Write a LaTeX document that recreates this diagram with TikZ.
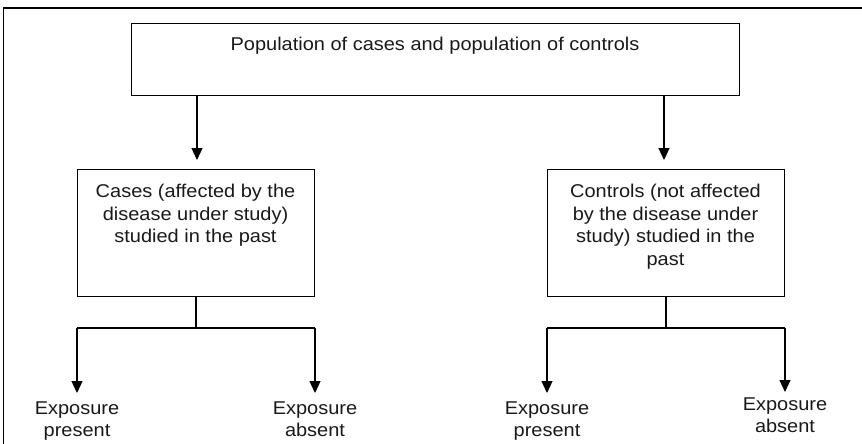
\documentclass[tikz,border=0pt]{standalone}
\usepackage{fontspec}
\setmainfont{Liberation Sans}[FakeStretch=1.08]
\usetikzlibrary{arrows.meta}
\begin{document}
\begin{tikzpicture}[x=1pt,y=-1pt,
  every node/.style={font=\fontsize{18.5}{22.5}\selectfont, inner sep=0pt, text=black!90},
  boxnode/.style={draw, line width=1.2pt, rectangle, anchor=north west},
  txt/.style={align=center, anchor=base},
  conn/.style={line width=1.2pt},
  arr/.style={conn, -{Triangle[length=12pt,width=11pt]}}]
\useasboundingbox (0,0) rectangle (862,444);
\draw[line width=1.2pt] (3.5,444) -- (3.5,8) -- (862,8);
% boxes
\node[boxnode, minimum width=608pt, minimum height=72pt] (top) at (131,23) {};
\node[boxnode, minimum width=237pt, minimum height=127pt] (cases) at (77,169) {};
\node[boxnode, minimum width=237pt, minimum height=127pt] (controls) at (547,169) {};
% texts (anchor base = baseline of last line)
\node[txt] (toptxt) at (435,51) {Population of cases and population of controls};
\node[txt] (casestxt) at (195.5,242.5) {Cases (affected by the\\disease under study)\\studied in the past};
\node[txt] (controlstxt) at (665.5,265) {Controls (not affected\\by the disease under\\study) studied in the\\past};
\node[txt] (e1) at (77,436.5) {Exposure\\present};
\node[txt] (e2) at (315,436.5) {Exposure\\absent};
\node[txt] (e3) at (547,436.5) {Exposure\\present};
\node[txt] (e4) at (785,432.5) {Exposure\\absent};
% coordinates
\coordinate (t1) at (197,95);
\coordinate (t1e) at (197,160);
\coordinate (t2) at (664,95);
\coordinate (t2e) at (664,160);
\coordinate (cs) at (196,296);
\coordinate (cj) at (196,328);
\coordinate (cl) at (77,328);
\coordinate (cr) at (315,328);
\coordinate (cle) at (77,393);
\coordinate (cre) at (315,393);
\coordinate (ks) at (666,296);
\coordinate (kj) at (666,328);
\coordinate (kl) at (547,328);
\coordinate (kr) at (785,328);
\coordinate (kle) at (547,393);
\coordinate (kre) at (785,392);
% connectors
\draw[arr] (t1) -- (t1e);
\draw[arr] (t2) -- (t2e);
\draw[conn] (cs) -- (cj);
\draw[conn] (cl) -- (cr);
\draw[arr] (cl) -- (cle);
\draw[arr] (cr) -- (cre);
\draw[conn] (ks) -- (kj);
\draw[conn] (kl) -- (kr);
\draw[arr] (kl) -- (kle);
\draw[arr] (kr) -- (kre);
\end{tikzpicture}
\end{document}
